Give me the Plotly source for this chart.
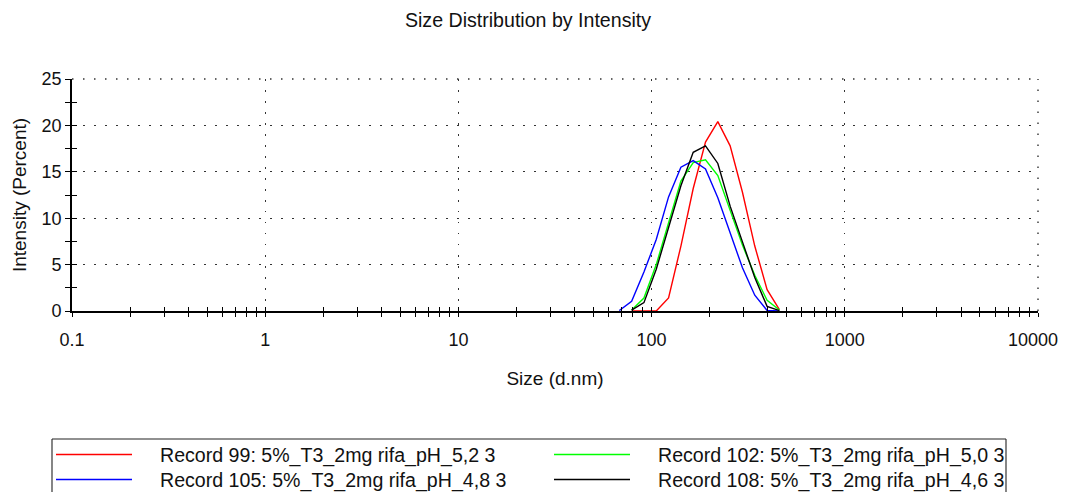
import plotly.graph_objects as go

# ---- data ----
sizes_nm = [68.06, 78.82, 91.28, 105.7, 122.4, 141.8, 164.2, 190.1,
            220.2, 255.0, 295.3, 342.0, 396.1, 458.7, 531.2]

rec99 = [None, 0.0, 0.0, 0.0, 1.4, 7.0, 13.2, 18.2, 20.4, 17.8, 12.8, 7.0, 2.3, 0.15, None]
rec102 = [None, 0.1, 1.4, 5.0, 9.5, 14.0, 16.0, 16.3, 14.6, 10.8, 7.1, 3.85, 1.15, 0.1, None]
rec105 = [0.05, 1.05, 4.2, 7.7, 12.3, 15.5, 16.2, 15.3, 12.2, 8.4, 4.65, 1.7, 0.05, 0.0, None]
rec108 = [None, 0.1, 0.9, 4.5, 8.9, 13.5, 17.1, 17.8, 15.9, 11.3, 7.45, 3.6, 0.5, 0.05, None]

series_names = ["Record 99: 5%_T3_2mg rifa_pH_5,2 3",
                "Record 102: 5%_T3_2mg rifa_pH_5,0 3",
                "Record 105: 5%_T3_2mg rifa_pH_4,8 3",
                "Record 108: 5%_T3_2mg rifa_pH_4,6 3"]
series_values = [rec99, rec102, rec105, rec108]
series_colors = ["#ff0000", "#00ff00", "#0000ff", "#000000"]

x_tick_vals = [0.1, 1, 10, 100, 1000, 10000]
# the last label carries a trailing figure space so it stays inside the visible window
x_tick_text = ["0.1", "1", "10", "100", "1000", "10000\u2007"]
y_tick_vals = [0, 5, 10, 15, 20, 25]
y_minor_vals = [2.5, 7.5, 12.5, 17.5, 22.5]
x_minor_vals = [k * 10.0 ** e for e in range(-1, 4) for k in range(2, 10)]

# ---- layout geometry (the page body adds an 8px offset) ----
OFF = 8
W, H = 1068 - OFF, 492 - OFF
ML, MR, MT, MB = 64, 30, 71, 181
PW, PH = W - ML - MR, H - MT - MB
FONT = "Liberation Sans, Arial, sans-serif"


def px(xs):
    """screen x pixel -> paper fraction"""
    return (xs - OFF - ML) / PW


def py(ys):
    """screen y pixel -> paper fraction"""
    return (H - MB - (ys - OFF)) / PH


fig = go.Figure()
for name, vals, col in zip(series_names, series_values, series_colors):
    fig.add_trace(go.Scatter(x=sizes_nm, y=vals, mode="lines", name=name,
                             line=dict(color=col, width=1.4),
                             connectgaps=False, showlegend=False))

grid_dash = "1.5px,9.5px"
grid_color = "#333"
fig.update_layout(
    width=W, height=H, autosize=False,
    margin=dict(l=ML, r=MR, t=MT, b=MB, pad=0, autoexpand=False),
    paper_bgcolor="white", plot_bgcolor="white",
    font=dict(family=FONT, size=18, color="#111"),
    title=dict(text="Size Distribution by Intensity", xref="container",
               x=(528 - OFF) / W, xanchor="center", y=1 - (20 - OFF) / H, yanchor="middle",
               font=dict(size=19.6, family=FONT, color="#111")),
    xaxis=dict(type="log", range=[-1, 4], tickmode="array", automargin=False,
               tickvals=x_tick_vals, ticktext=x_tick_text, ticklabeloverflow="allow",
               ticks="outside", ticklen=4, tickwidth=1.3, tickcolor="#000",
               showline=True, linecolor="#000", linewidth=1.6,
               showgrid=True, gridcolor=grid_color, gridwidth=1.4, griddash=grid_dash,
               zeroline=False, mirror=False,
               minor=dict(tickmode="array", tickvals=x_minor_vals, ticks="outside",
                          ticklen=4, tickwidth=1.2, tickcolor="#000", showgrid=False),
               title=dict(text="Size (d.nm)", standoff=22, font=dict(size=19)),
               tickfont=dict(size=18), ticklabelstandoff=8),
    yaxis=dict(range=[0, 25], tickmode="array", tickvals=y_tick_vals, automargin=False,
               ticks="outside", ticklen=5, tickwidth=1.3, tickcolor="#000",
               showline=True, linecolor="#000", linewidth=1.6,
               showgrid=True, gridcolor=grid_color, gridwidth=1.4, griddash=grid_dash,
               zeroline=False, mirror=False,
               minor=dict(tickmode="array", tickvals=y_minor_vals, ticks="outside",
                          ticklen=5, tickwidth=1.2, tickcolor="#000", showgrid=False),
               title=dict(text="Intensity (Percent)", standoff=10, font=dict(size=19)),
               tickfont=dict(size=18)),
    xaxis2=dict(type="log", range=[-1, 4], overlaying="x", anchor="y", side="bottom",
                automargin=False,
                tickmode="array", tickvals=x_tick_vals, showticklabels=False,
                ticks="inside", ticklen=4, tickwidth=1.3, tickcolor="#000",
                showgrid=False, showline=False, zeroline=False,
                minor=dict(tickmode="array", tickvals=x_minor_vals, ticks="inside",
                           ticklen=4, tickwidth=1.2, tickcolor="#000", showgrid=False)),
    yaxis2=dict(range=[0, 25], overlaying="y", anchor="x", side="left",
                automargin=False,
                tickmode="array", tickvals=y_tick_vals, showticklabels=False,
                ticks="inside", ticklen=5, tickwidth=1.3, tickcolor="#000",
                showgrid=False, showline=False, zeroline=False,
                minor=dict(tickmode="array", tickvals=y_minor_vals, ticks="inside",
                           ticklen=5, tickwidth=1.2, tickcolor="#000", showgrid=False)),
)
# empty traces so the overlay tick axes are drawn
fig.add_trace(go.Scatter(x=[], y=[], xaxis="x2", yaxis="y", showlegend=False, hoverinfo="skip"))
fig.add_trace(go.Scatter(x=[], y=[], xaxis="x", yaxis="y2", showlegend=False, hoverinfo="skip"))

# dotted top and right frame (grid lines at the range ends)
dotted = dict(color=grid_color, width=1.4, dash=grid_dash)
fig.add_shape(type="line", xref="paper", yref="paper", x0=0, x1=1, y0=1, y1=1,
              line=dotted, layer="below")
fig.add_shape(type="line", xref="paper", yref="paper", x0=1, x1=1, y0=0, y1=1,
              line=dotted, layer="below")

# ---- legend box (bottom edge is outside the picture, as in the reference) ----
box_l, box_r, box_t, box_b = 52, 1006, 439, 520
border = dict(color="#222", width=1.1)
for x0, y0, x1, y1 in [(box_l, box_t, box_r, box_t), (box_l, box_t, box_l, box_b),
                       (box_r, box_t, box_r, box_b)]:
    fig.add_shape(type="line", xref="paper", yref="paper",
                  x0=px(x0), y0=py(y0), x1=px(x1), y1=py(y1), line=border, layer="above")

slots = [(0, 0), (1, 0), (0, 1), (1, 1)]  # (column, row) for each series
col_line = [(56, 132), (554, 630)]
col_text = [158, 656]
row_y = [455, 480]
for (c, r), name, col in zip(slots, series_names, series_colors):
    fig.add_shape(type="line", xref="paper", yref="paper",
                  x0=px(col_line[c][0]), x1=px(col_line[c][1]),
                  y0=py(row_y[r] - 0.5), y1=py(row_y[r] - 0.5),
                  line=dict(color=col, width=1.6), layer="above")
    fig.add_annotation(text=name, xref="paper", yref="paper",
                       x=px(col_text[c]), y=py(row_y[r]), xanchor="left", yanchor="middle",
                       showarrow=False, font=dict(size=19.6, family=FONT, color="#111"))

# remove page scrollbars (without clipping the body) so the whole window shows the figure
fig.write_html("out.html",
               post_script="document.documentElement.style.overflow='hidden';")
